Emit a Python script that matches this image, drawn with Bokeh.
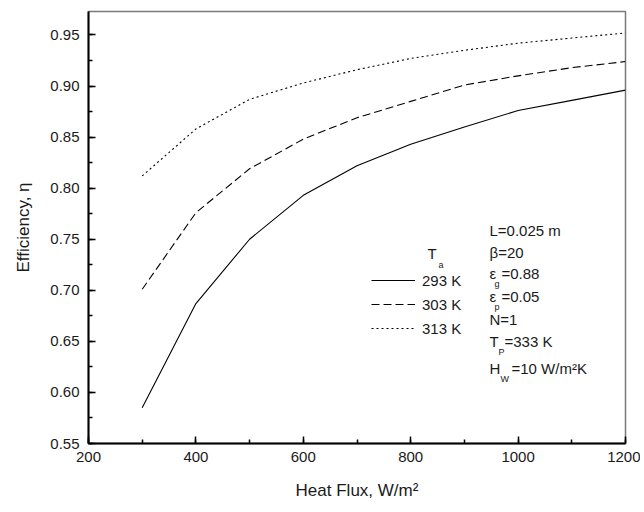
from bokeh.plotting import figure
from bokeh.models import Range1d, Label, Legend, LegendItem, FixedTicker, CustomJSTickFormatter
from bokeh.embed import file_html
from bokeh.resources import INLINE

# ---- data ----
heat_flux = [300, 400, 500, 600, 700, 800, 900, 1000, 1100, 1200]
eff_293 = [0.585, 0.687, 0.750, 0.793, 0.822, 0.843, 0.860, 0.876, 0.886, 0.896]
eff_303 = [0.701, 0.776, 0.819, 0.848, 0.869, 0.885, 0.901, 0.910, 0.918, 0.924]
eff_313 = [0.812, 0.858, 0.887, 0.903, 0.916, 0.927, 0.935, 0.942, 0.947, 0.952]
series_labels = ["293 K", "303 K", "313 K"]
x_ticks = [200, 400, 600, 800, 1000, 1200]
y_ticks = [0.55, 0.60, 0.65, 0.70, 0.75, 0.80, 0.85, 0.90, 0.95]

FONT = "Liberation Sans"

p = figure(width=640, height=508, output_backend="svg", toolbar_location=None,
           x_range=Range1d(200, 1200), y_range=Range1d(0.55, 0.973),
           min_border_left=88, min_border_right=15, min_border_top=11, min_border_bottom=65)

p.xgrid.visible = False
p.ygrid.visible = False
p.outline_line_color = "#7a7a7a"
p.outline_line_width = 1.5
p.background_fill_color = "white"
p.border_fill_color = "white"

for ax in (p.xaxis[0], p.yaxis[0]):
    ax.axis_line_color = "black"
    ax.axis_line_width = 2
    ax.major_tick_in = 7
    ax.major_tick_out = 0
    ax.minor_tick_in = 4
    ax.minor_tick_out = 0
    ax.major_tick_line_width = 1.5
    ax.minor_tick_line_width = 1.5
    ax.major_tick_line_color = "black"
    ax.minor_tick_line_color = "black"
    ax.major_label_text_font = FONT
    ax.major_label_text_font_size = "15px"
    ax.major_label_text_color = "#1a1a1a"
    ax.axis_label_text_font = FONT
    ax.axis_label_text_font_size = "17px"
    ax.axis_label_text_font_style = "normal"
    ax.axis_label_text_color = "#1a1a1a"

p.xaxis.ticker = FixedTicker(ticks=x_ticks, minor_ticks=list(range(200, 1201, 100)))
p.yaxis.ticker = FixedTicker(ticks=y_ticks, minor_ticks=[0.55 + 0.025 * i for i in range(17)])
p.yaxis.formatter = CustomJSTickFormatter(code="return tick.toFixed(2);")
p.xaxis.major_label_standoff = 8
p.yaxis.major_label_standoff = 9
p.xaxis.axis_label = "Heat Flux, W/m\u00b2"
p.yaxis.axis_label = "Efficiency, \u03b7"
p.xaxis.axis_label_standoff = 16
p.yaxis.axis_label_standoff = 14

r1 = p.line(heat_flux, eff_293, line_color="black", line_width=1.1)
r2 = p.line(heat_flux, eff_303, line_color="black", line_width=1.1, line_dash="8 4")
r3 = p.line(heat_flux, eff_313, line_color="black", line_width=1.1, line_dash="2 3")

legend = Legend(items=[LegendItem(label=series_labels[0], renderers=[r1]),
                       LegendItem(label=series_labels[1], renderers=[r2]),
                       LegendItem(label=series_labels[2], renderers=[r3])],
                location=(283, 105), glyph_width=44, glyph_height=20, label_height=20,
                spacing=4, padding=0, margin=0, label_standoff=7,
                border_line_color=None, background_fill_alpha=0,
                label_text_font=FONT, label_text_font_size="15px", label_text_color="#1a1a1a")
p.add_layout(legend, "center")


def px2x(px):
    return 200 + (px - 88) * 100 / 53.7


def py2y(py):
    return 0.55 + (442.7 - py) * 0.05 / 51.05


def put(text, px, py, size="15px", baseline="middle"):
    p.add_layout(Label(x=px2x(px), y=py2y(py), text=text, text_font=FONT, text_font_size=size,
                       text_baseline=baseline, text_align="left", text_color="#1a1a1a"))


# legend heading T_a
put("T", 427, 253)
put("a", 438, 264, size="9px")

# parameter block
put("L=0.025 m", 489, 230)
put("\u03b2=20", 489, 252)
put("\u03b5", 489, 273)
put("g", 494, 283, size="9px")
put("=0.88", 501, 273)
put("\u03b5", 489, 296)
put("p", 494, 306, size="9px")
put("=0.05", 501, 296)
put("N=1", 489, 319)
put("T", 489, 341)
put("P", 498, 351, size="9px")
put("=333 K", 504, 341)
put("H", 489, 368)
put("W", 500, 378, size="9px")
put("=10 W/m\u00b2K", 511, 368)

open("out.html", "w").write(file_html(p, INLINE))
